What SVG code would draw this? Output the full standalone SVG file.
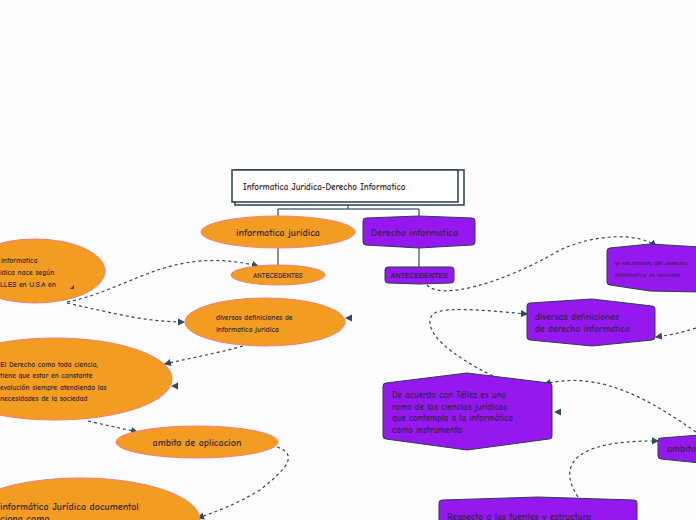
<svg xmlns="http://www.w3.org/2000/svg" width="696" height="520" viewBox="0 0 696 520">
<style>
.o{fill:#f29c22;stroke:#f97a7a;stroke-width:1}
.p{fill:#9519ef;stroke:#2b3d4f;stroke-width:1}
.t{font-family:"Comic Neue","DejaVu Sans",sans-serif;fill:#3a2a2a;font-weight:bold}
.tp{font-family:"Comic Neue","DejaVu Sans",sans-serif;fill:#3a2050;font-weight:bold}
.d{fill:none;stroke:#2e4a5e;stroke-width:1.2;stroke-dasharray:3 3}
.s{fill:none;stroke:#5a6e7c;stroke-width:1.5}
</style>
<defs><marker id="a" viewBox="0 0 6 6" refX="5" refY="3" markerWidth="6" markerHeight="6" orient="auto"><path d="M0,0L6,3L0,6z" fill="#2e4a5e"/></marker></defs>
<rect width="696" height="520" fill="#fdfdfd"/>
<g id="connectors">
<path class="s" d="M348,203V209M278,209H419M278,209V218M419,209V217M278,248V266M419,247V267"/>
<path class="d" marker-end="url(#a)" d="M67,302C130,290 170,245 258,266"/>
<path class="d" marker-end="url(#a)" d="M67,303C120,315 150,322 184,322"/>
<path class="d" marker-end="url(#a)" d="M243,346C210,355 190,358 165,364"/>
<path class="d" marker-end="url(#a)" d="M88,421C105,425 120,428 137,432"/>
<path class="d" marker-end="url(#a)" d="M277,447C300,455 285,470 260,490C235,505 215,512 198,518"/>
<path class="d" marker-end="url(#a)" d="M427,285C440,300 500,285 560,250C600,232 640,234 656,246"/>
<path class="d" marker-end="url(#a)" d="M493,376C450,355 420,330 433,314C445,305 500,312 527,314"/>
<path class="d" marker-end="url(#a)" d="M696,328C680,333 670,335 656,337"/>
<path class="d" marker-end="url(#a)" d="M696,432C650,400 600,370 545,384"/>
<path class="d" marker-end="url(#a)" d="M578,497C560,470 565,440 658,441"/>
<path class="d" marker-end="url(#a)" d="M352,318L346,318"/>
<path class="d" marker-end="url(#a)" d="M177,386L172,386"/>
<path class="d" marker-end="url(#a)" d="M560,412L555,412"/>
</g>
<g id="title">
<rect x="235" y="170" width="229" height="35" fill="#fff" stroke="#2b3d4f" stroke-width="1.5"/>
<rect x="232" y="170" width="226" height="32" fill="#fff" stroke="#2b3d4f" stroke-width="1.5"/>
<text class="t" x="243" y="190" font-size="9">Informatica Juridica-Derecho Informatico</text>
</g>
<g id="n1"><ellipse class="o" cx="278" cy="232" rx="77" ry="16"/><text class="t" x="278" y="236" font-size="10" text-anchor="middle">informatica juridica</text></g>
<g id="n2"><ellipse class="o" cx="278" cy="275" rx="47" ry="10"/><text class="t" x="278" y="278" font-size="7" text-anchor="middle">ANTECEDENTES</text></g>
<g id="n3"><ellipse class="o" cx="35" cy="271" rx="70" ry="32"/><text class="t" font-size="7.5"><tspan x="1" y="263">informatica</tspan><tspan x="0" y="275">idica nace según</tspan><tspan x="0" y="287">LLES en U.S.A en</tspan></text><path d="M70,289L74,285V289z" fill="#2e4a5e"/></g>
<g id="n4"><ellipse class="o" cx="265" cy="322" rx="80" ry="24"/><text class="t" font-size="7.5"><tspan x="216" y="320">diversas definiciones de</tspan><tspan x="216" y="332">informatica juridica</tspan></text></g>
<g id="n5"><ellipse class="o" cx="55" cy="379" rx="117" ry="41"/><text class="t" font-size="7.5"><tspan x="0" y="367">El Derecho como toda ciencia,</tspan><tspan x="0" y="378">tiene que estar en constante</tspan><tspan x="0" y="390">evolución siempre atendiendo las</tspan><tspan x="0" y="401">necesidades de la sociedad</tspan></text></g>
<g id="n6"><ellipse class="o" cx="197" cy="442" rx="81" ry="16"/><text class="t" x="197" y="446" font-size="10" text-anchor="middle">ambito de aplicacion</text></g>
<g id="n7"><ellipse class="o" cx="80" cy="520" rx="120" ry="42"/><text class="t" font-size="10"><tspan x="0" y="510">informática Jurídica documental</tspan><tspan x="0" y="522">ciona como</tspan></text></g>
<g id="n8"><path class="p" d="M363,221Q363,218 366,218L419,216L472,218Q475,218 475,221V242Q475,245 472,245L419,248L366,245Q363,245 363,242z"/><text class="tp" x="371" y="236" font-size="10">Derecho informatico</text></g>
<g id="n9"><path class="p" d="M385,270Q385,267 388,267H451Q454,267 454,270V280Q454,283 451,283L419,284L388,283Q385,283 385,280z"/><text class="tp" x="419" y="278" font-size="7" text-anchor="middle" style="font-family:'Liberation Sans',sans-serif">ANTECEDENTES</text></g>
<g id="n10"><path class="p" d="M607,251Q607,248 610,248L650,244L700,247V292L650,291L610,285Q607,285 607,282z"/><text class="tp" font-size="6.5"><tspan x="615" y="265">el nacimiento del derecho</tspan><tspan x="615" y="277">informatico se remonta</tspan></text></g>
<g id="n11"><path class="p" d="M527,306Q527,303 530,303L592,299L652,306Q655,306 655,309V337Q655,340 652,340L592,346L530,340Q527,340 527,337z"/><text class="tp" font-size="9.5"><tspan x="535" y="320">diversas definiciones</tspan><tspan x="535" y="332">de derecho informatico</tspan></text></g>
<g id="n12"><path class="p" d="M383,386Q383,383 386,383L467,373L549,383Q552,383 552,386V436Q552,439 549,439L467,450L386,439Q383,439 383,436z"/><text class="tp" font-size="9"><tspan x="392" y="398">De acuerdo con Téllez es una</tspan><tspan x="392" y="410">rama de las ciencias jurídicas</tspan><tspan x="392" y="421">que contempla a la informática</tspan><tspan x="392" y="433">como instrumento</tspan></text></g>
<g id="n13"><path class="p" d="M658,441Q658,438 661,438L700,435V463L661,459Q658,459 658,456z"/><text class="tp" x="667" y="452" font-size="10">ambito</text></g>
<g id="n14"><path class="p" d="M439,503Q439,500 442,500L538,497L634,500Q637,500 637,503V525H439z"/><text class="tp" x="447" y="520" font-size="9.5">Respecto a las fuentes y estructura</text></g>
</svg>
